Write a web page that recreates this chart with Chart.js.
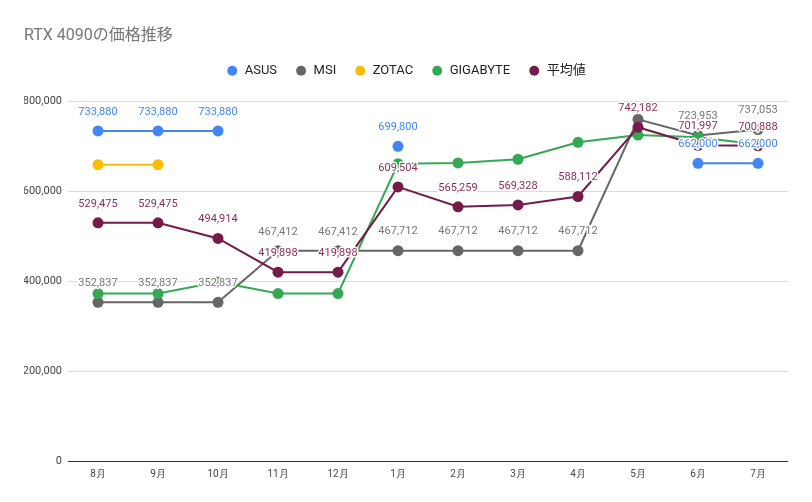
<!DOCTYPE html>
<html>
<head>
<meta charset="utf-8">
<script src="https://cdn.jsdelivr.net/npm/chart.js@4/dist/chart.umd.min.js"></script>
<style>
  html, body { margin: 0; padding: 0; background: #fff; }
  #wrap { width: 812px; height: 502px; }
</style>
</head>
<body>
<div id="wrap"><canvas id="chart"></canvas></div>
<script>
const months = ['8月', '9月', '10月', '11月', '12月', '1月', '2月', '3月', '4月', '5月', '6月', '7月'];

const asus = [733880, 733880, 733880, null, null, 699800, null, null, null, null, 662000, 662000];
const msi = [352837, 352837, 352837, 467412, 467412, 467712, 467712, 467712, 467712, 759600, 723953, 737053];
const zotac = [658800, 658800, null, null, null, null, null, null, null, null, null, null];
const gigabyte = [372384, 372384, 398025, 372384, 372384, 661000, 662806, 670944, 708512, 724764, 720038, 703611];
const average = [529475, 529475, 494914, 419898, 419898, 609504, 565259, 569328, 588112, 742182, 701997, 700888];

const yTicks = [0, 200000, 400000, 600000, 800000];

const fmt = v => v.toLocaleString('en-US');

// draws value labels above points, with a white halo, skipping ones that collide
const valueLabels = {
    id: 'valueLabels',
    afterDatasetsDraw(chart) {
        const ctx = chart.ctx;
        const placed = [];
        ctx.save();
        ctx.font = '11px Roboto';
        ctx.textAlign = 'center';
        ctx.textBaseline = 'middle';
        ctx.lineJoin = 'round';
        // later series win when labels overlap
        for (let i = chart.data.datasets.length - 1; i >= 0; i--) {
            const ds = chart.data.datasets[i];
            if (!ds.showValues) continue;
            const meta = chart.getDatasetMeta(i);
            meta.data.forEach((pt, j) => {
                const v = ds.data[j];
                if (v === null || v === undefined) return;
                const text = fmt(v);
                const w = ctx.measureText(text).width;
                const x = pt.x, y = pt.y - 19;
                const box = { l: x - w / 2, r: x + w / 2, t: y - 4.5, b: y + 4.5 };
                const hit = placed.some(p => box.l < p.r && box.r > p.l && box.t < p.b && box.b > p.t);
                if (hit) return;
                placed.push(box);
                ctx.strokeStyle = '#fff';
                ctx.lineWidth = 3;
                ctx.strokeText(text, x, y);
                ctx.fillStyle = ds.labelColor;
                ctx.fillText(text, x, y);
            });
        }
        ctx.restore();
    }
};

// a bit more room under the legend
const legendGap = {
    id: 'legendGap',
    beforeInit(chart) {
        const fit = chart.legend.fit;
        chart.legend.fit = function () {
            fit.call(this);
            this.height += 14;
        };
    }
};

function series(label, data, color, labelColor, showValues, order) {
    return {
        label: label,
        data: data,
        borderColor: color,
        backgroundColor: color,
        pointBackgroundColor: color,
        pointBorderColor: color,
        borderWidth: 2,
        pointRadius: 5.5,
        pointHoverRadius: 5.5,
        pointBorderWidth: 0,
        tension: 0,
        spanGaps: false,
        showValues: showValues,
        labelColor: labelColor,
        order: order
    };
}

new Chart(document.getElementById('chart'), {
    type: 'line',
    data: {
        labels: months,
        datasets: [
            series('ASUS', asus, '#4285F4', '#4285F4', true, 4),
            series('MSI', msi, '#666666', '#777777', true, 3),
            series('ZOTAC', zotac, '#FBBC04', '#FBBC04', false, 2),
            series('GIGABYTE', gigabyte, '#34A853', '#34A853', false, 1),
            series('平均値', average, '#741B47', '#8A2F5B', true, 0)
        ]
    },
    options: {
        responsive: true,
        maintainAspectRatio: false,
        animation: false,
        layout: { padding: { left: 24, right: 24, top: 24, bottom: 15 } },
        scales: {
            x: {
                offset: true,
                grid: { display: false, drawTicks: false },
                border: { display: false },
                ticks: {
                    color: '#444',
                    font: { family: 'Roboto', size: 10 },
                    padding: 7,
                    maxRotation: 0
                }
            },
            y: {
                min: 0,
                max: 800000,
                afterBuildTicks: axis => { axis.ticks = yTicks.map(v => ({ value: v })); },
                afterFit: axis => { axis.width = 44; },
                grid: {
                    drawTicks: false,
                    color: c => c.tick && c.tick.value === 0 ? '#333' : '#dcdcdc',
                    lineWidth: 1
                },
                border: { display: false },
                ticks: {
                    color: '#444',
                    font: { family: 'Roboto', size: 11 },
                    padding: 6,
                    callback: v => fmt(v)
                }
            }
        },
        plugins: {
            title: {
                display: true,
                text: 'RTX 4090の価格推移',
                align: 'start',
                color: '#757575',
                font: { family: 'Roboto, "Noto Sans CJK JP"', size: 16, weight: 'normal' },
                padding: { top: 2, bottom: 1 }
            },
            legend: {
                display: true,
                labels: {
                    usePointStyle: true,
                    pointStyle: 'circle',
                    boxWidth: 12,
                    boxHeight: 7,
                    padding: 18,
                    color: '#222',
                    font: { family: 'Roboto, "Noto Sans CJK JP"', size: 13 },
                    sort: (a, b) => a.datasetIndex - b.datasetIndex
                }
            },
            tooltip: { enabled: false }
        }
    },
    plugins: [valueLabels, legendGap]
});
</script>
</body>
</html>
